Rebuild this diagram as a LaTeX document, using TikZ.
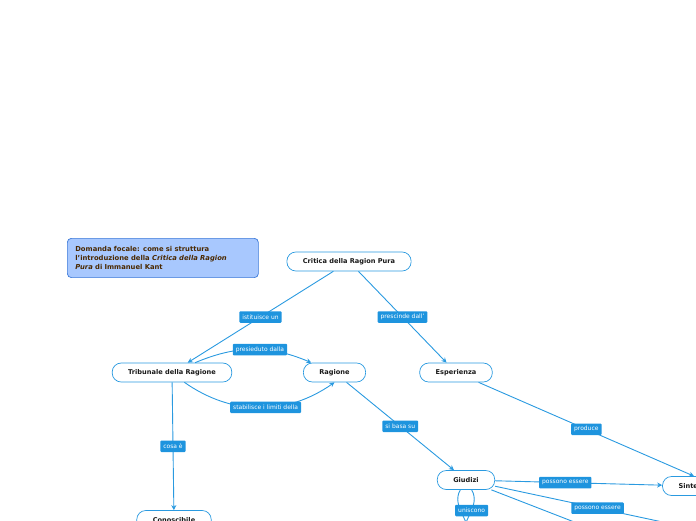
\documentclass[tikz,border=0pt]{standalone}
\usepackage{fontspec}
\setmainfont{DejaVu Sans}
\usepackage{tikz}
\usetikzlibrary{arrows.meta}
\definecolor{mmblue}{HTML}{2A9AE0}
\definecolor{lblblue}{HTML}{1E94DE}
\definecolor{focfill}{HTML}{A8C8FE}
\definecolor{focline}{HTML}{3A78D8}
\definecolor{foctext}{HTML}{4A2800}
\tikzset{
  topic/.style ={draw=mmblue, rounded corners=9pt, minimum height=19pt,
                 inner xsep=16pt, inner ysep=0pt, fill=white, line width=0.7pt,
                 text=black!90, font=\fontsize{6.6}{7}\selectfont\bfseries},
  focal/.style ={draw=focline, rounded corners=4pt, fill=focfill,
                 line width=0.7pt, text=foctext, align=left, anchor=north west,
                 minimum width=191pt, minimum height=37pt, inner sep=8pt,
                 text width=175pt, font=\fontsize{6.8}{9}\selectfont\bfseries},
  lbl/.style   ={fill=lblblue, text=white, rounded corners=1pt,
                 inner xsep=3pt, inner ysep=0pt, minimum height=11.5pt,
                 font=\fontsize{6}{6}\selectfont},
  anc/.style   ={draw=mmblue, line width=0.9pt, -{Stealth[length=5pt, width=5pt]}},
}

\begin{document}
\begin{tikzpicture}[x=1pt, y=-1pt]
  \useasboundingbox (0,0) rectangle (696,520);
  \clip (0,0) rectangle (696,520);
  \node[focal] (dom) at (67,238) {Domanda focale: come si struttura\\
    l'introduzione della \textit{Critica della Ragion}\\
    \textit{Pura} di Immanuel Kant};
  \node[topic] (crit) at (349,261.5) {Critica della Ragion Pura};
  \node[topic] (trib) at (172,372.5) {Tribunale della Ragione};
  \node[topic] (rag) at (334.5,372.5) {Ragione};
  \node[topic] (esp) at (456,372.5) {Esperienza};
  \node[topic] (giu) at (466,480) {Giudizi};
  \node[topic] (sint) at (694,486) {Sintetici};
  \node[topic] (con) at (174,520) {Conoscibile};
  \coordinate (anal) at (700,530);
  \coordinate (apri) at (600,532);
  \coordinate (unb) at (466,540);
  % connettori
  \draw[anc] (crit) -- node[lbl] {istituisce un} (trib);
  \draw[anc] (crit) -- node[lbl] {prescinde dall'} (esp);
  \draw[anc] (trib) to[bend left=23] node[lbl, pos=0.56] {presieduto dalla} (rag);
  \draw[anc] (trib) to[bend right=35] node[lbl, pos=0.54] {stabilisce i limiti della} (rag.south);
  \draw[anc] (rag) -- node[lbl] {si basa su} (giu);
  \draw[anc] (esp) -- node[lbl] {produce} (sint.north);
  \draw[anc] (trib) -- node[lbl] {cosa è} (con);
  \draw[anc] (giu) -- node[lbl, pos=0.42] {possono essere} (sint);
  \draw[anc] (giu) -- node[lbl, pos=0.5] {possono essere} (anal);
  \draw[anc] (giu) -- (apri);
  \draw[anc] (giu) to[out=-120, in=70] (unb);
  \draw[anc] (giu) to[out=-60, in=110] node[lbl, pos=0.42] {uniscono} (unb);
\end{tikzpicture}
\end{document}
